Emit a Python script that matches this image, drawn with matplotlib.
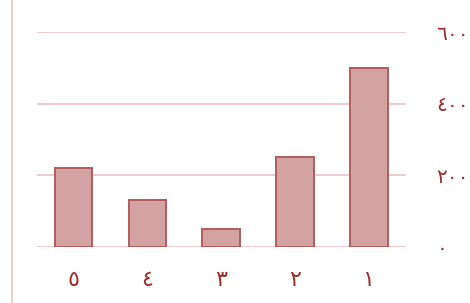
import matplotlib
matplotlib.use("Agg")
import matplotlib.pyplot as plt
from matplotlib.lines import Line2D

categories = ["١", "٢", "٣", "٤", "٥"]
values = [500, 250, 50, 130, 220]
yticks = [0, 200, 400, 600]
ytick_labels = ["٠", "٢٠٠", "٤٠٠", "٦٠٠"]

plt.rcParams['font.family'] = ['DejaVu Sans']
fig = plt.figure(figsize=(4.7, 3.03), dpi=100)
ax = fig.add_axes([0.078, 0.186, 0.785, 0.708])

x = list(range(len(categories)))
ax.bar(x, values, width=0.51, color='#d3a3a3', edgecolor='#b35c5c', linewidth=1.4, zorder=3)
ax.set_xlim(len(categories) - 0.5, -0.5)
ax.set_ylim(0, 600)
ax.set_xticks(x)
ax.set_xticklabels(categories, fontsize=16, color='#9e2f2f')
ax.set_yticks(yticks)
ax.set_yticklabels(ytick_labels, fontsize=14.5, color='#9e2f2f')
ax.yaxis.tick_right()
ax.tick_params(axis='y', length=0, pad=22)
ax.tick_params(axis='x', length=0, pad=17)
ax.grid(axis='y', color='#ecc8c8', linewidth=1.3, zorder=0)
for s in ax.spines.values():
    s.set_visible(False)

fig.add_artist(Line2D([0.025, 0.025], [0, 1], transform=fig.transFigure, color='#ecc8c8', linewidth=1.3))
fig.savefig("out.png", dpi=100)
